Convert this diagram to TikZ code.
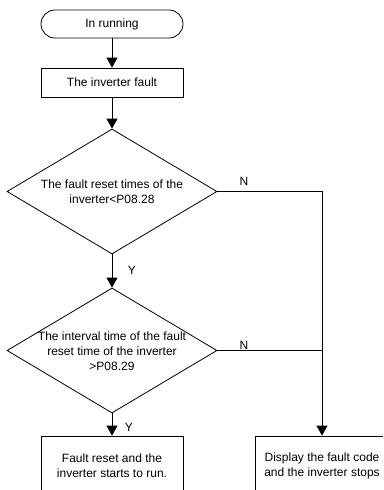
\documentclass[tikz,border=0pt]{standalone}
\usepackage{fontspec}
\setmainfont{Liberation Sans}
\usetikzlibrary{arrows.meta,shapes.geometric}

\tikzset{
  startbox/.style={draw, rounded corners=14pt, minimum width=142pt, minimum height=28pt, inner sep=0pt},
  procbox/.style={draw, minimum width=142pt, minimum height=29pt, inner sep=0pt, align=center},
  decision/.style={draw, diamond, aspect=1.667, minimum width=210pt, minimum height=125pt, inner sep=0pt},
  flow/.style={-{Triangle[width=11pt,length=10pt]}},
  yn/.style={font=\fontsize{12}{15}\selectfont}
}

\begin{document}
\begin{tikzpicture}[x=1pt, y=-1pt, line width=0.8pt, font=\fontsize{12}{15}\selectfont]
  \useasboundingbox (0,0) rectangle (383,490);
  \clip (0,0) rectangle (383,490);

  % Main column
  \node[startbox] (run) at (112,24) {In running};
  \node[procbox] (fault) at (112,82.5) {The inverter fault};
  \node[decision] (times) at (112,191.5) {};
  \node[align=center] (timestxt) at (112,192) {The fault reset times of the\\inverter<P08.28};
  \node[decision] (interval) at (112,350.5) {};
  \node[align=center] (intervaltxt) at (112,351) {The interval time of the fault\\reset time of the inverter\\>P08.29};

  % End boxes (cut off by the page edge)
  \node[procbox, minimum height=60pt] (reset) at (112,466) {Fault reset and the\\inverter starts to run.};
  \node[procbox, minimum width=134pt, minimum height=60pt] (stop) at (322,466) {Display the fault code\\and the inverter stops};

  % Connectors
  \draw[flow] (run) -- (fault);
  \draw[flow] (fault) -- (times);
  \draw[flow] (times) -- (interval);
  \draw[flow] (interval) -- (reset);
  \draw[flow] (times.east) -| (stop.north);
  \coordinate (join) at (interval.east -| stop.north);
  \draw (interval.east) -- (join);

  % Branch labels
  \node[yn] (n1) at (244,181) {N};
  \node[yn] (n2) at (244,345) {N};
  \node[yn] (y1) at (132,270) {Y};
  \node[yn] (y2) at (129,427) {Y};
\end{tikzpicture}
\end{document}
